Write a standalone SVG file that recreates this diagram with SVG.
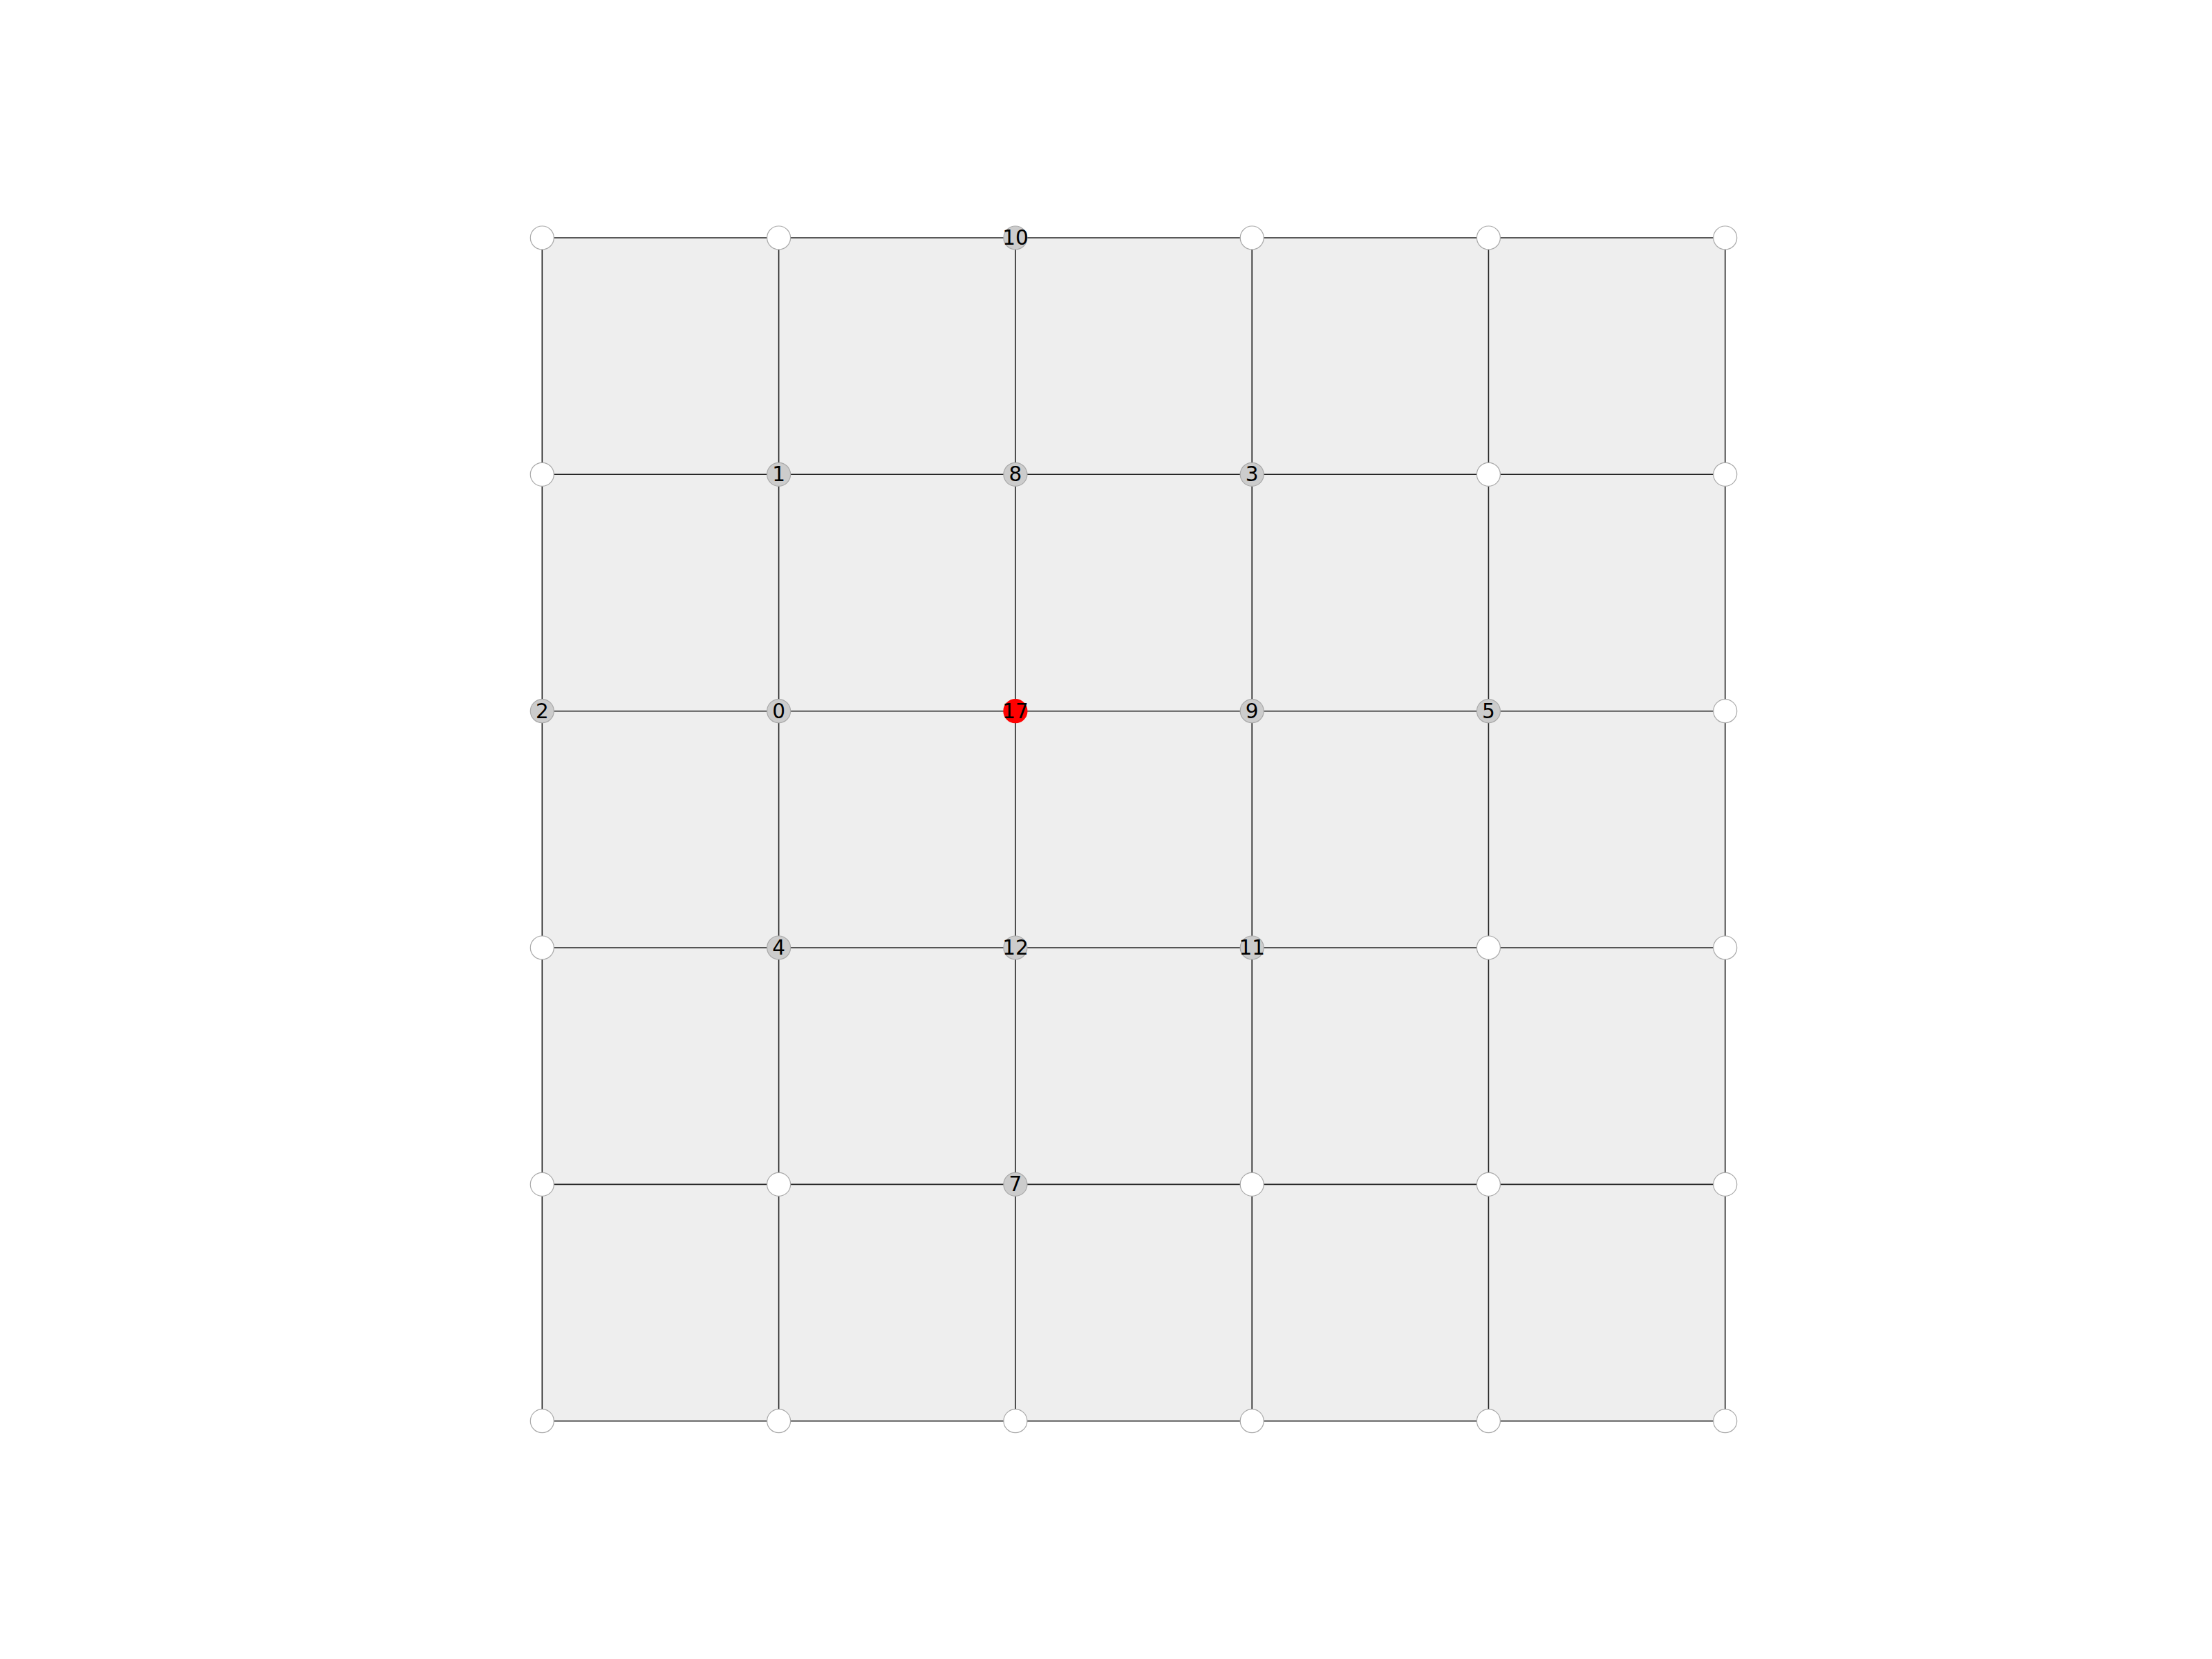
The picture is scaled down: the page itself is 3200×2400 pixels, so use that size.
<svg xmlns="http://www.w3.org/2000/svg" width="3200" height="2400" viewBox="0 0 3200 2400">
<style>
.cell{fill:#eeeeee;stroke:none}
.edge{stroke:#222222;stroke-width:1.6;fill:none}
.n circle{stroke:#aaaaaa;stroke-width:1.2}
.w circle{fill:#ffffff}
.g circle{fill:#cccccc}
.r circle{fill:#ff0000;stroke:#ff0000}
.n text{font-family:"DejaVu Sans",sans-serif;font-size:29.5px;fill:#000000;text-anchor:middle;dominant-baseline:central}
</style>
<rect width="3200" height="2400" fill="#ffffff"/>
<rect class="cell" x="784.3" y="344" width="1711.4" height="1711.7"/>
<g id="connectors" class="edge">
<line x1="784.3" y1="344" x2="2495.7" y2="344"/>
<line x1="784.3" y1="686.3" x2="2495.7" y2="686.3"/>
<line x1="784.3" y1="1028.7" x2="2495.7" y2="1028.7"/>
<line x1="784.3" y1="1371" x2="2495.7" y2="1371"/>
<line x1="784.3" y1="1713.4" x2="2495.7" y2="1713.4"/>
<line x1="784.3" y1="2055.7" x2="2495.7" y2="2055.7"/>
<line x1="784.3" y1="344" x2="784.3" y2="2055.7"/>
<line x1="1126.6" y1="344" x2="1126.6" y2="2055.7"/>
<line x1="1468.9" y1="344" x2="1468.9" y2="2055.7"/>
<line x1="1811.2" y1="344" x2="1811.2" y2="2055.7"/>
<line x1="2153.4" y1="344" x2="2153.4" y2="2055.7"/>
<line x1="2495.7" y1="344" x2="2495.7" y2="2055.7"/>
</g>
<!-- row 0 -->
<g id="n_0_0" class="n w"><circle cx="784.3" cy="344" r="17"/></g>
<g id="n_1_0" class="n w"><circle cx="1126.6" cy="344" r="17"/></g>
<g id="node10" class="n g"><circle cx="1468.9" cy="344" r="17"/><text x="1468.9" y="344">10</text></g>
<g id="n_3_0" class="n w"><circle cx="1811.2" cy="344" r="17"/></g>
<g id="n_4_0" class="n w"><circle cx="2153.4" cy="344" r="17"/></g>
<g id="n_5_0" class="n w"><circle cx="2495.7" cy="344" r="17"/></g>
<!-- row 1 -->
<g id="n_0_1" class="n w"><circle cx="784.3" cy="686.3" r="17"/></g>
<g id="node1" class="n g"><circle cx="1126.6" cy="686.3" r="17"/><text x="1126.6" y="686.3">1</text></g>
<g id="node8" class="n g"><circle cx="1468.9" cy="686.3" r="17"/><text x="1468.9" y="686.3">8</text></g>
<g id="node3" class="n g"><circle cx="1811.2" cy="686.3" r="17"/><text x="1811.2" y="686.3">3</text></g>
<g id="n_4_1" class="n w"><circle cx="2153.4" cy="686.3" r="17"/></g>
<g id="n_5_1" class="n w"><circle cx="2495.7" cy="686.3" r="17"/></g>
<!-- row 2 -->
<g id="node2" class="n g"><circle cx="784.3" cy="1028.7" r="17"/><text x="784.3" y="1028.7">2</text></g>
<g id="node0" class="n g"><circle cx="1126.6" cy="1028.7" r="17"/><text x="1126.6" y="1028.7">0</text></g>
<g id="node17" class="n r"><circle cx="1468.9" cy="1028.7" r="17"/><text x="1468.9" y="1028.7">17</text></g>
<g id="node9" class="n g"><circle cx="1811.2" cy="1028.7" r="17"/><text x="1811.2" y="1028.7">9</text></g>
<g id="node5" class="n g"><circle cx="2153.4" cy="1028.7" r="17"/><text x="2153.4" y="1028.7">5</text></g>
<g id="n_5_2" class="n w"><circle cx="2495.7" cy="1028.7" r="17"/></g>
<!-- row 3 -->
<g id="n_0_3" class="n w"><circle cx="784.3" cy="1371" r="17"/></g>
<g id="node4" class="n g"><circle cx="1126.6" cy="1371" r="17"/><text x="1126.6" y="1371">4</text></g>
<g id="node12" class="n g"><circle cx="1468.9" cy="1371" r="17"/><text x="1468.9" y="1371">12</text></g>
<g id="node11" class="n g"><circle cx="1811.2" cy="1371" r="17"/><text x="1811.2" y="1371">11</text></g>
<g id="n_4_3" class="n w"><circle cx="2153.4" cy="1371" r="17"/></g>
<g id="n_5_3" class="n w"><circle cx="2495.7" cy="1371" r="17"/></g>
<!-- row 4 -->
<g id="n_0_4" class="n w"><circle cx="784.3" cy="1713.4" r="17"/></g>
<g id="n_1_4" class="n w"><circle cx="1126.6" cy="1713.4" r="17"/></g>
<g id="node7" class="n g"><circle cx="1468.9" cy="1713.4" r="17"/><text x="1468.9" y="1713.4">7</text></g>
<g id="n_3_4" class="n w"><circle cx="1811.2" cy="1713.4" r="17"/></g>
<g id="n_4_4" class="n w"><circle cx="2153.4" cy="1713.4" r="17"/></g>
<g id="n_5_4" class="n w"><circle cx="2495.7" cy="1713.4" r="17"/></g>
<!-- row 5 -->
<g id="n_0_5" class="n w"><circle cx="784.3" cy="2055.7" r="17"/></g>
<g id="n_1_5" class="n w"><circle cx="1126.6" cy="2055.7" r="17"/></g>
<g id="n_2_5" class="n w"><circle cx="1468.9" cy="2055.7" r="17"/></g>
<g id="n_3_5" class="n w"><circle cx="1811.2" cy="2055.7" r="17"/></g>
<g id="n_4_5" class="n w"><circle cx="2153.4" cy="2055.7" r="17"/></g>
<g id="n_5_5" class="n w"><circle cx="2495.7" cy="2055.7" r="17"/></g>
</svg>
